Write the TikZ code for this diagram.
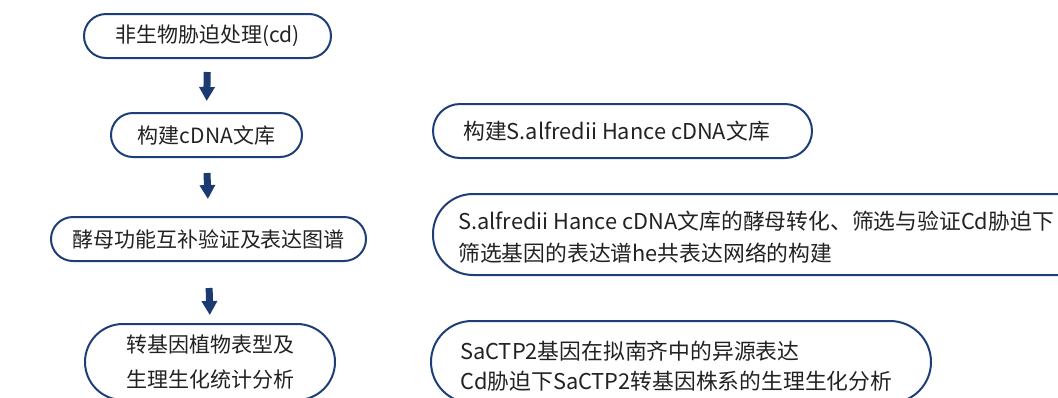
\documentclass[tikz,border=0pt]{standalone}
\usepackage{fontspec}
\setmainfont{Noto Sans CJK SC}
\usetikzlibrary{arrows.meta}
\definecolor{navy}{HTML}{1E3E78}
\definecolor{arrowc}{HTML}{1B3A72}
\definecolor{txt}{HTML}{222222}
\begin{document}
\begin{tikzpicture}[x=1pt,y=1pt,
  box/.style={draw=navy, line width=2pt, text=txt, inner sep=0pt, align=center,
    font=\fontsize{21}{35}\selectfont},
  label/.style={text=txt, inner sep=0pt, anchor=west, align=left},
  flow/.style={draw=arrowc, line width=7pt,
    -{Triangle[width=15pt,length=14pt]}}
]
\clip (0,0) rectangle (1058,-397);
% left column
\node[box, rounded corners=22pt, minimum width=247pt, minimum height=44pt] (b1) at (207.5,-36) {非生物胁迫处理(cd)};
\node[box, rounded corners=22pt, minimum width=191pt, minimum height=44pt] (b2) at (206.5,-135) {构建cDNA文库};
\node[box, rounded corners=22pt, minimum width=315pt, minimum height=44pt] (b3) at (208.5,-239) {酵母功能互补验证及表达图谱};
\node[box, rounded corners=38pt, minimum width=250pt, minimum height=76pt] (b4) at (210,-362) {转基因植物表型及\\生理生化统计分析};
% arrows
\draw[flow, shorten <=13pt, shorten >=11pt] (b1.south) -- (b2.north);
\draw[flow, shorten <=15pt, shorten >=17pt] (b2.south) -- (b3.north);
\draw[flow, shorten <=26pt, shorten >=8pt] (b3.south) -- (b4.north);
% right column
\node[box, rounded corners=27pt, minimum width=379pt, minimum height=54pt, anchor=west] (r1) at (432,-131) {};
\node[label, font=\fontsize{21.8}{32}\selectfont] (r1t) at (463,-131) {构建S.alfredii Hance cDNA文库};
\node[box, rounded corners=40pt, minimum width=680pt, minimum height=81pt, anchor=west] (r2) at (432,-234.5) {};
\node[label, font=\fontsize{21.8}{32}\selectfont] (r2t) at (458,-237) {S.alfredii Hance cDNA文库的酵母转化、筛选与验证Cd胁迫下\\筛选基因的表达谱he共表达网络的构建};
\node[box, rounded corners=41pt, minimum width=500pt, minimum height=82pt, anchor=west] (r3) at (430,-362) {};
\node[label, font=\fontsize{21.8}{30}\selectfont] (r3t) at (460,-366) {SaCTP2基因在拟南齐中的异源表达\\Cd胁迫下SaCTP2转基因株系的生理生化分析};
\end{tikzpicture}
\end{document}
